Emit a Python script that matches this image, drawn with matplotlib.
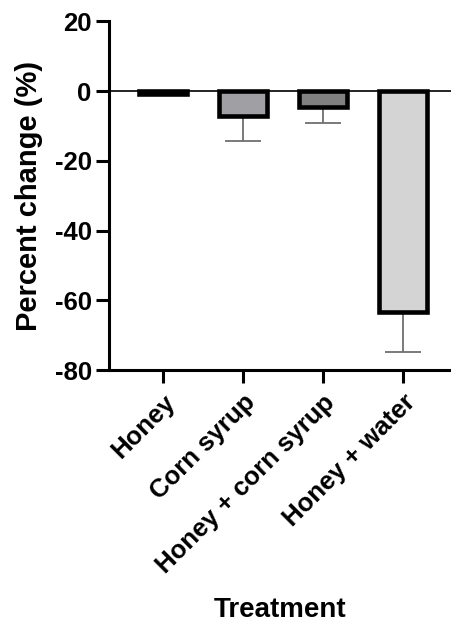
import matplotlib
matplotlib.use("Agg")
import matplotlib.pyplot as plt

treatments = ["Honey", "Corn syrup", "Honey + corn syrup", "Honey + water"]
change = [-0.7, -7.2, -4.5, -63.3]
err_low = [0.0, 7.1, 4.6, 11.6]
fills = ["#000000", "#a0a0a4", "#808080", "#d4d4d4"]
yticks = [20, 0, -20, -40, -60, -80]

plt.rcParams['font.family'] = ['Liberation Sans', 'DejaVu Sans']
plt.rcParams['font.weight'] = 'bold'
plt.rcParams['axes.unicode_minus'] = False

fig = plt.figure(figsize=(4.51, 6.23), dpi=100)
ax = fig.add_axes([0.2417, 0.406, 0.7583, 0.5595])

x = list(range(len(treatments)))
ax.axhline(0, color="black", lw=1.2, zorder=1)
ax.errorbar(x, change, yerr=[err_low, [0] * len(err_low)], fmt="none",
            ecolor="#707070", elinewidth=1.3, capsize=13, capthick=1.3, zorder=2)
ax.bar(x, change, width=0.6, color=fills, edgecolor="black", linewidth=3.3, zorder=3)

ax.set_xlim(-0.675, 3.6)
ax.set_ylim(-80, 20)
ax.set_yticks(yticks)
ax.set_xticks(x)
ax.set_xticklabels(treatments, rotation=45, ha="right", rotation_mode="anchor")

for s in ["top", "right"]:
    ax.spines[s].set_visible(False)
for s in ["left", "bottom"]:
    ax.spines[s].set_linewidth(2.2)

ax.tick_params(axis="both", width=2.2, length=9.5, labelsize=18.5, pad=3)
ax.tick_params(axis="x", pad=5)
ax.set_ylabel("Percent change (%)", fontsize=21, fontweight="bold", labelpad=8)
ax.set_xlabel("Treatment", fontsize=20, fontweight="bold", labelpad=14)

fig.savefig("out.png", dpi=100)
